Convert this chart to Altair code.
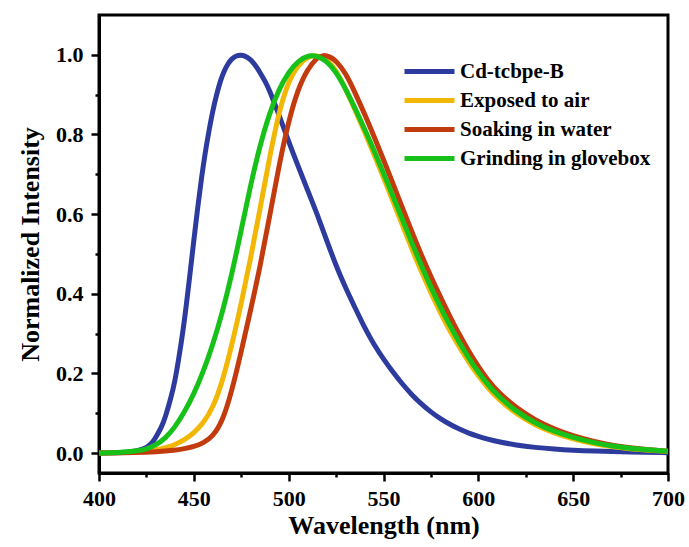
import altair as alt
import pandas as pd

# ---- data ----
blue_wl = [400, 410, 415, 420, 425, 428, 430, 433, 435, 438, 440, 442, 444.4, 446, 448, 450,
           452, 454, 456, 458, 460, 462, 464, 466, 468, 470, 472, 475, 478, 480, 483, 485,
           488, 490, 495, 500, 505, 510, 515, 520, 525, 530, 535, 540, 545, 550, 555, 560,
           565, 570, 575, 580, 585, 590, 595, 600, 605, 610, 620, 630, 640, 650, 660, 680, 700]
blue_int = [0.0, 0.001, 0.002, 0.005, 0.013, 0.025, 0.04, 0.065, 0.09, 0.14, 0.18, 0.235, 0.31,
            0.37, 0.45, 0.535, 0.615, 0.69, 0.755, 0.81, 0.86, 0.90, 0.935, 0.96, 0.978, 0.99,
            0.997, 1.0, 0.995, 0.988, 0.97, 0.955, 0.93, 0.91, 0.848, 0.782, 0.72, 0.66, 0.60,
            0.535, 0.47, 0.415, 0.365, 0.315, 0.272, 0.236, 0.203, 0.173, 0.146, 0.123, 0.103,
            0.086, 0.072, 0.06, 0.05, 0.042, 0.035, 0.029, 0.02, 0.014, 0.01, 0.007, 0.005,
            0.003, 0.001]

yellow_wl = [400, 410, 420, 430, 435, 440, 445, 450, 455, 460, 465, 470, 475, 480, 485, 490,
             495, 500, 505, 510, 514, 520, 525, 530, 535, 540, 545, 550, 555, 560, 565, 570,
             575, 580, 585, 590, 595, 600, 605, 610, 620, 630, 640, 650, 660, 670, 680, 690, 700]
yellow_int = [0.0, 0.001, 0.003, 0.008, 0.013, 0.021, 0.033, 0.05, 0.075, 0.113, 0.178, 0.27,
              0.375, 0.49, 0.615, 0.745, 0.86, 0.935, 0.975, 0.995, 1.0, 0.99, 0.962, 0.915,
              0.862, 0.807, 0.75, 0.692, 0.632, 0.572, 0.512, 0.455, 0.402, 0.352, 0.307,
              0.266, 0.228, 0.194, 0.164, 0.138, 0.098, 0.07, 0.05, 0.035, 0.024, 0.016, 0.011,
              0.007, 0.004]

red_wl = [400, 420, 430, 440, 445, 450, 455, 460, 465, 470, 475, 480, 485, 490, 495, 500, 505,
          510, 515, 518, 522, 525, 530, 535, 540, 545, 550, 555, 560, 565, 570, 575, 580, 585,
          590, 595, 600, 605, 610, 620, 630, 640, 650, 660, 670, 680, 690, 700]
red_int = [0.0, 0.001, 0.003, 0.007, 0.011, 0.016, 0.025, 0.042, 0.078, 0.155, 0.255, 0.36,
           0.47, 0.595, 0.725, 0.835, 0.915, 0.965, 0.993, 1.0, 0.995, 0.985, 0.955, 0.905,
           0.852, 0.795, 0.737, 0.677, 0.615, 0.555, 0.497, 0.443, 0.392, 0.343, 0.297, 0.255,
           0.217, 0.183, 0.155, 0.113, 0.083, 0.06, 0.043, 0.03, 0.02, 0.013, 0.008, 0.005]

green_wl = [400, 410, 420, 425, 430, 435, 440, 445, 450, 455, 460, 465, 470, 475, 480, 485, 490,
            495, 500, 505, 511, 515, 520, 525, 530, 535, 540, 545, 550, 555, 560, 565, 570,
            575, 580, 585, 590, 595, 600, 605, 610, 620, 630, 640, 650, 660, 670, 680, 690, 700]
green_int = [0.0, 0.001, 0.005, 0.01, 0.02, 0.037, 0.065, 0.102, 0.148, 0.205, 0.272, 0.352,
             0.448, 0.56, 0.675, 0.775, 0.855, 0.915, 0.957, 0.985, 1.0, 0.997, 0.985, 0.957,
             0.915, 0.866, 0.814, 0.76, 0.703, 0.645, 0.586, 0.527, 0.47, 0.416, 0.366, 0.32,
             0.277, 0.238, 0.203, 0.172, 0.145, 0.104, 0.075, 0.054, 0.039, 0.027, 0.018,
             0.012, 0.008, 0.005]

series_names = ["Cd-tcbpe-B", "Exposed to air", "Soaking in water", "Grinding in glovebox"]
series_colors = ["#2E3B9E", "#F2B705", "#C23B0E", "#17C11A"]

x_ticks = [400, 425, 450, 475, 500, 525, 550, 575, 600, 625, 650, 675, 700]
y_ticks = [0.0, 0.1, 0.2, 0.3, 0.4, 0.5, 0.6, 0.7, 0.8, 0.9, 1.0]

rows = []
for name, wl, it in zip(series_names,
                        [blue_wl, yellow_wl, red_wl, green_wl],
                        [blue_int, yellow_int, red_int, green_int]):
    for w, v in zip(wl, it):
        rows.append({"Wavelength": w, "Intensity": v, "Sample": name,
                     "order": series_names.index(name)})
df = pd.DataFrame(rows)

FONT = "Liberation Serif"

chart = alt.Chart(df).mark_line(strokeWidth=5, interpolate="basis", clip=True).encode(
    x=alt.X("Wavelength:Q",
            scale=alt.Scale(domain=[400, 700], nice=False, zero=False),
            axis=alt.Axis(
                title="Wavelength (nm)", values=x_ticks, grid=False,
                labelExpr="datum.value % 50 === 0 ? datum.label : ''",
                tickSize={"condition": {"test": "datum.value % 50 === 0", "value": 8}, "value": 4},
                tickWidth=2.5, tickColor="black", domainColor="black", domainWidth=3,
                labelFont=FONT, labelFontSize=22, labelFontWeight="bold", labelColor="black",
                labelPadding=7, labelFlush=False, labelOverlap=False,
                titleFont=FONT, titleFontSize=26, titleFontWeight="bold", titleColor="black",
                titlePadding=3)),
    y=alt.Y("Intensity:Q",
            scale=alt.Scale(domain=[-0.05, 1.1], nice=False, zero=False),
            axis=alt.Axis(
                title="Normalized Intensity", values=y_ticks, grid=False,
                labelExpr="round(datum.value*10) % 2 === 0 ? format(datum.value, '.1f') : ''",
                tickSize={"condition": {"test": "round(datum.value*10) % 2 === 0", "value": 8}, "value": 4},
                tickWidth=2.5, tickColor="black", domainColor="black", domainWidth=3,
                labelFont=FONT, labelFontSize=22, labelFontWeight="bold", labelColor="black",
                labelPadding=8, labelOverlap=False,
                titleFont=FONT, titleFontSize=26, titleFontWeight="bold", titleColor="black",
                titlePadding=12)),
    color=alt.Color("Sample:N",
                    scale=alt.Scale(domain=series_names, range=series_colors),
                    sort=series_names,
                    legend=alt.Legend(
                        title=None, orient="none", legendX=318, legendY=44,
                        symbolType="M-2.5,0H2.5", symbolSize=400, symbolStrokeWidth=5,
                        labelOffset=18, rowPadding=6, padding=0,
                        labelFont=FONT, labelFontSize=21, labelFontWeight="bold",
                        labelColor="black", labelLimit=300)),
    order=alt.Order("order:Q"),
    detail="Sample:N",
).properties(
    width=569, height=458,
    background="white",
    autosize=alt.AutoSizeParams(type="none"),
    padding={"left": 99, "top": 15, "right": 21, "bottom": 74},
).configure_view(
    stroke="black", strokeWidth=3
)

chart.save("out.html", embed_options={"renderer": "svg", "actions": False})
